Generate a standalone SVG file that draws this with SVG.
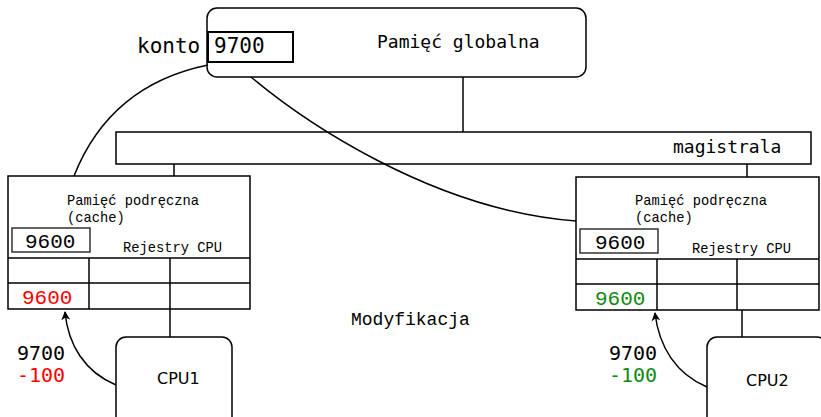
<svg xmlns="http://www.w3.org/2000/svg" width="821" height="417" viewBox="0 0 821 417">
  <style>
    .box { fill: #ffffff; stroke: #000000; stroke-width: 1.5; }
    .ln { fill: none; stroke: #000000; stroke-width: 1.5; }
    .mono { font-family: "DejaVu Sans Mono", monospace; fill: #000000; }
    .lmono { font-family: "Liberation Mono", monospace; fill: #000000; }
    .sans { font-family: "DejaVu Sans", sans-serif; fill: #000000; }
    .red { fill: #ff0000; }
    .green { fill: #118a11; }
  </style>
  <defs>
    <marker id="arrow" viewBox="0 0 10 10" refX="9" refY="5" markerWidth="9" markerHeight="9" orient="auto" markerUnits="userSpaceOnUse">
      <path d="M0,0 L10,5 L0,10 L3,5 Z" fill="#000000"/>
    </marker>
  </defs>

  <rect width="821" height="417" fill="#ffffff"/>

  <!-- global memory -->
  <g id="global-memory">
    <rect class="box" x="207" y="8" width="379" height="69" rx="10"/>
    <rect x="208" y="32" width="85" height="30" fill="#ffffff" stroke="#000000" stroke-width="2"/>
    <text class="mono" x="214" y="53" font-size="21">9700</text>
    <text class="mono" x="137" y="53" font-size="21">konto</text>
    <text class="mono" x="377" y="48" font-size="18">Pamięć globalna</text>
  </g>

  <!-- bus -->
  <g id="bus">
    <rect class="box" x="116" y="132" width="695" height="32"/>
    <text class="mono" x="673" y="153" font-size="18">magistrala</text>
  </g>

  <!-- cache of CPU1 -->
  <g id="cache1">
    <rect class="box" x="8" y="176" width="242" height="133"/>
    <text class="lmono" x="67" y="205" font-size="13.75">Pamięć podręczna</text>
    <text class="lmono" x="67" y="222" font-size="13.75">(cache)</text>
    <rect x="12" y="228" width="78" height="24" fill="none" stroke="#333333" stroke-width="1.5"/>
    <text class="lmono" x="25" y="248" font-size="21">9600</text>
    <text class="lmono" x="123" y="252" font-size="13.75">Rejestry CPU</text>
    <line class="ln" x1="8" y1="258" x2="250" y2="258"/>
    <line class="ln" x1="8" y1="283" x2="250" y2="283"/>
    <line class="ln" x1="89" y1="258" x2="89" y2="309"/>
    <line class="ln" x1="170" y1="258" x2="170" y2="309"/>
    <text class="lmono red" x="22" y="304" font-size="21">9600</text>
  </g>

  <!-- cache of CPU2 -->
  <g id="cache2">
    <rect class="box" x="576" y="177" width="243" height="133"/>
    <text class="lmono" x="635" y="205" font-size="13.75">Pamięć podręczna</text>
    <text class="lmono" x="635" y="222" font-size="13.75">(cache)</text>
    <rect x="580" y="229" width="78" height="24" fill="none" stroke="#333333" stroke-width="1.5"/>
    <text class="lmono" x="595" y="249" font-size="21">9600</text>
    <text class="lmono" x="692" y="253" font-size="13.75">Rejestry CPU</text>
    <line class="ln" x1="576" y1="259" x2="819" y2="259"/>
    <line class="ln" x1="576" y1="284" x2="819" y2="284"/>
    <line class="ln" x1="657" y1="259" x2="657" y2="310"/>
    <line class="ln" x1="737" y1="259" x2="737" y2="310"/>
    <text class="lmono green" x="595" y="305" font-size="21">9600</text>
  </g>

  <!-- CPUs -->
  <g id="cpu1">
    <rect class="box" x="116" y="337" width="116" height="100" rx="10"/>
    <text class="sans" x="157" y="384" font-size="16">CPU1</text>
  </g>
  <g id="cpu2">
    <rect class="box" x="707" y="337" width="120" height="100" rx="10"/>
    <text class="sans" x="746" y="386" font-size="16">CPU2</text>
  </g>

  <!-- connectors, drawn over the boxes so the curves cross the bus -->
  <g id="connectors">
    <line class="ln" x1="463" y1="77" x2="463" y2="132"/>
    <line class="ln" x1="174" y1="164" x2="174" y2="176"/>
    <line class="ln" x1="747" y1="164" x2="747" y2="177"/>
    <line class="ln" x1="170" y1="309" x2="170" y2="337"/>
    <line class="ln" x1="742" y1="310" x2="742" y2="337"/>
    <path class="ln" d="M208 65 Q110 85 74 176"/>
    <path class="ln" d="M251 77 C300 118 430 210 576 221"/>
    <path class="ln" d="M116 385 C85 372 68 345 65 312" marker-end="url(#arrow)"/>
    <path class="ln" d="M707 387 C676 374 659 347 655 313" marker-end="url(#arrow)"/>
  </g>

  <!-- operation labels -->
  <g id="labels">
    <text class="mono" x="17" y="360" font-size="20">9700</text>
    <text class="mono red" x="17" y="382" font-size="20">-100</text>
    <text class="mono" x="609" y="360" font-size="20">9700</text>
    <text class="mono green" x="609" y="382" font-size="20">-100</text>
    <text class="lmono" x="351" y="325" font-size="18">Modyfikacja</text>
  </g>
</svg>
